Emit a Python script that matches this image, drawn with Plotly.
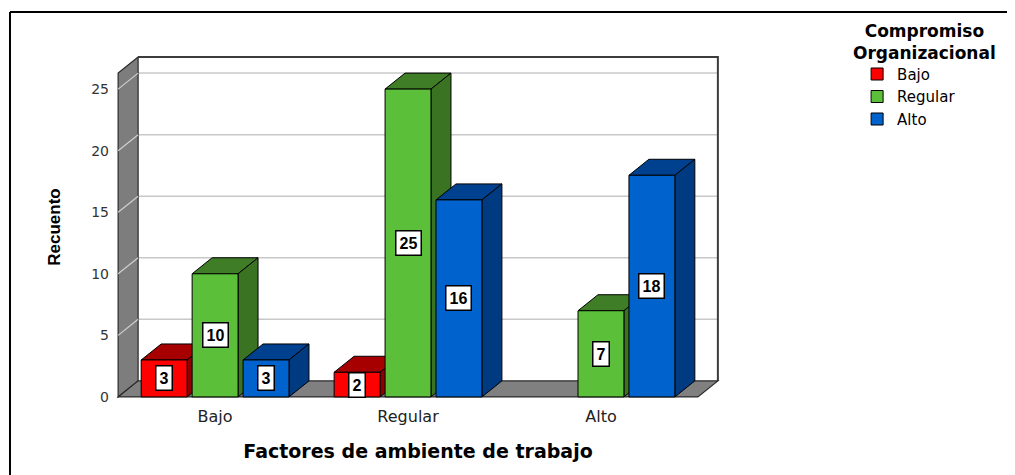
import plotly.graph_objects as go

# ---------------- data ----------------
categories = ["Bajo", "Regular", "Alto"]
series_names = ["Bajo", "Regular", "Alto"]
vals_bajo = [3, 2, 0]
vals_regular = [10, 25, 7]
vals_alto = [3, 16, 18]
y_ticks = [0, 5, 10, 15, 20, 25]
x_title = "Factores de ambiente de trabajo"
y_title = "Recuento"
legend_title = "Compromiso<br>Organizacional"

series_values = [vals_bajo, vals_regular, vals_alto]

# ---------------- styles / geometry ----------------
front_colors = ["#ff0000", "#5cbf3a", "#0062cc"]
top_colors = ["#a60000", "#3f7d26", "#00418f"]
side_colors = ["#900000", "#3a7322", "#003a80"]

BAR_W = 0.238
BAR_STEP = 0.264
DX = 0.1036          # depth offset (x units)
DY = 1.30            # depth offset (y units)
X_LEFT = -0.5026
X_RIGHT = 2.606      # back right edge
Y_TOP_BACK = 27.6
Y_TOP_FRONT = Y_TOP_BACK - DY

fig = go.Figure()

shapes = []
# back wall
shapes.append(dict(type="rect", layer="below", xref="x", yref="y",
                   x0=X_LEFT + DX, x1=X_RIGHT, y0=DY, y1=Y_TOP_BACK,
                   fillcolor="white", line=dict(width=0)))
# back wall grid lines
for t in y_ticks[1:]:
    shapes.append(dict(type="line", layer="below", xref="x", yref="y",
                       x0=X_LEFT + DX, x1=X_RIGHT, y0=t + DY, y1=t + DY,
                       line=dict(color="#c8c8c8", width=1.5)))
# back wall top and right edges
shapes.append(dict(type="path", layer="below", xref="x", yref="y",
                   path=f"M{X_LEFT + DX},{Y_TOP_BACK} L{X_RIGHT},{Y_TOP_BACK} L{X_RIGHT},{DY}",
                   line=dict(color="#3c3c3c", width=2)))
# left wall
shapes.append(dict(type="path", layer="below", xref="x", yref="y",
                   path=(f"M{X_LEFT},0 L{X_LEFT},{Y_TOP_FRONT} L{X_LEFT + DX},{Y_TOP_BACK} "
                         f"L{X_LEFT + DX},{DY} Z"),
                   fillcolor="#7d7d7d", line=dict(color="#2a2a2a", width=1.2)))
for t in y_ticks[1:]:
    shapes.append(dict(type="line", layer="below", xref="x", yref="y",
                       x0=X_LEFT, x1=X_LEFT + DX, y0=t, y1=t + DY,
                       line=dict(color="#d0d0d0", width=1.2)))
# floor
shapes.append(dict(type="path", layer="below", xref="x", yref="y",
                   path=(f"M{X_LEFT},0 L{X_RIGHT - DX},0 L{X_RIGHT},{DY} "
                         f"L{X_LEFT + DX},{DY} Z"),
                   fillcolor="#808080", line=dict(color="#2a2a2a", width=1.2)))

annotations = []

# bars: front faces as traces, top/side faces as shapes
for j, (name, vals) in enumerate(zip(series_names, series_values)):
    xs, ys = [], []
    for i, v in enumerate(vals):
        if not v:
            continue
        xc = i + (j - 1) * BAR_STEP
        xs.append(xc)
        ys.append(v)
        x0 = xc - BAR_W / 2
        x1 = xc + BAR_W / 2
        # top face
        shapes.append(dict(type="path", layer="below", xref="x", yref="y",
                           path=f"M{x0},{v} L{x1},{v} L{x1 + DX},{v + DY} L{x0 + DX},{v + DY} Z",
                           fillcolor=top_colors[j], line=dict(color="black", width=1)))
        # side face
        shapes.append(dict(type="path", layer="below", xref="x", yref="y",
                           path=f"M{x1},0 L{x1},{v} L{x1 + DX},{v + DY} L{x1 + DX},{DY} Z",
                           fillcolor=side_colors[j], line=dict(color="black", width=1)))
        annotations.append(dict(x=xc, y=v / 2, xref="x", yref="y", text=f"<b>{v}</b>",
                                showarrow=False, bgcolor="white", bordercolor="black",
                                borderwidth=1.5, borderpad=3,
                                font=dict(family="Liberation Sans, Arial", size=16, color="black")))
    fig.add_trace(go.Bar(x=xs, y=ys, name=name, width=BAR_W,
                         marker=dict(color=front_colors[j], line=dict(color="black", width=1)),
                         showlegend=True, hoverinfo="y+name"))

# legend title
annotations.append(dict(x=1.339, y=1.039, xref="paper", yref="paper", text=f"<b>{legend_title}</b>",
                        showarrow=False, xanchor="center", yanchor="middle", align="center",
                        font=dict(family="DejaVu Sans", size=17, color="black")))

# outer frame (left and top)
shapes.append(dict(type="line", xref="paper", yref="paper", x0=-0.1755, x1=-0.1755, y0=-0.3, y1=1.125,
                   line=dict(color="black", width=2)))
shapes.append(dict(type="line", xref="paper", yref="paper", x0=-0.1755, x1=1.6, y0=1.125, y1=1.125,
                   line=dict(color="black", width=2)))

fig.update_layout(
    width=1015, height=475,
    margin=dict(l=108, r=303, t=47, b=84),
    paper_bgcolor="white", plot_bgcolor="white",
    barmode="overlay",
    shapes=shapes, annotations=annotations,
    showlegend=True,
    legend=dict(x=1.227, y=0.992, xanchor="left", yanchor="top",
                font=dict(family="DejaVu Sans", size=15, color="black"),
                bgcolor="rgba(0,0,0,0)", tracegroupgap=0),
    xaxis=dict(range=[X_LEFT - 0.011, X_RIGHT + 0.011], tickmode="array",
               tickvals=list(range(len(categories))), ticktext=categories,
               showgrid=False, zeroline=False, showline=False, ticks="",
               ticklabelstandoff=6,
               tickfont=dict(family="DejaVu Sans", size=16, color="#222"),
               title=dict(text=f"<b>{x_title}</b>", standoff=19,
                          font=dict(family="DejaVu Sans", size=19, color="black"))),
    yaxis=dict(range=[-0.17, Y_TOP_BACK + 0.17], tickmode="array", tickvals=y_ticks,
               showgrid=False, zeroline=False, showline=False, ticks="",
               ticklabelstandoff=6,
               tickfont=dict(family="DejaVu Sans", size=14, color="#333"),
               title=dict(text=f"<b>{y_title}</b>", standoff=26,
                          font=dict(family="Liberation Sans Narrow, Liberation Sans", size=17, color="black"))),
)

fig.write_html("out.html")
